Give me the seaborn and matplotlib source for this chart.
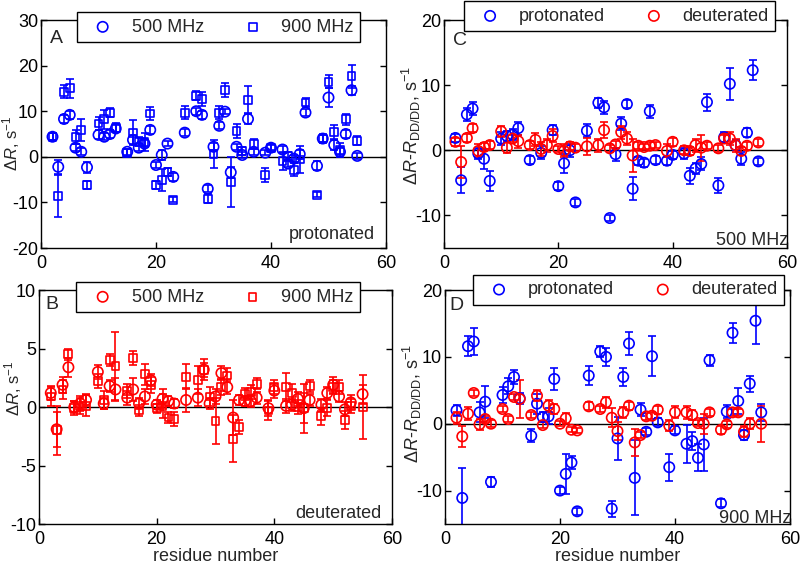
import matplotlib
matplotlib.use("Agg")
import pandas as pd
import matplotlib.pyplot as plt
import seaborn as sns

### ---------------- DATA ---------------- ###
# residue numbers
res_all = [2, 3, 4, 5, 6, 7, 8, 10, 11, 12, 13, 15, 16, 17, 18, 19, 20, 21, 22, 23, 25,
           27, 28, 29, 30, 31, 32, 33, 34, 35, 36, 37, 39, 40, 42, 43, 44, 45, 46, 48,
           49, 50, 51, 52, 53, 54, 55]
res_no54 = [r for r in res_all if r != 54]
res_c_prot = [2, 3, 4, 5, 6, 7, 8, 10, 11, 12, 13, 15, 17, 19, 20, 21, 22, 23, 25, 27,
              28, 29, 30, 31, 32, 33, 34, 35, 36, 37, 39, 40, 42, 43, 44, 45, 46, 48, 49,
              50, 51, 52, 53, 54, 55]

# A: protonated, delta R
a_500 = [4.4, -2.2, 8.3, 9.2, 2.0, 1.1, -2.3, 4.8, 4.4, 5.0, 6.2, 1.1, 3.7, 2.0, 2.9, 5.9,
         -1.8, 0.4, 2.9, -4.4, 5.3, 10.0, 9.2, -7.0, 2.2, 6.8, 9.9, -3.4, 2.2, 0.4, 8.3,
         1.1, 0.9, 2.0, 1.6, -1.5, -0.4, 0.6, 9.7, -2.0, 4.0, 13.0, 2.6, 1.1, 5.0, 14.6, 0.2]
a_500_err = [0.8, 1.5, 0.8, 0.8, 0.8, 0.8, 1.2, 1.0, 0.8, 0.8, 0.8, 0.6, 1.0, 0.8, 0.8, 0.8,
             0.6, 1.2, 0.6, 0.8, 0.8, 0.8, 0.8, 0.8, 0.8, 0.8, 0.6, 1.2, 0.6, 0.6, 1.0, 0.6,
             0.6, 0.6, 0.8, 0.8, 0.8, 1.0, 0.8, 1.0, 0.8, 2.0, 1.0, 0.8, 0.8, 1.0, 0.6]
a_900 = [4.4, -8.6, 14.3, 15.0, 4.4, 5.9, -6.2, 7.3, 8.2, 9.7, 6.4, 0.9, 5.3, 3.3, 3.3, 9.5,
         -6.2, -5.1, -3.3, -9.4, 9.7, 13.4, 12.7, -9.2, 0.6, 9.7, 14.7, -5.5, 5.6, 1.3, 12.5,
         2.8, -4.0, 2.0, -0.9, 0.1, -2.8, -0.6, 11.9, -8.3, 4.0, 16.5, 5.5, 1.5, 8.2, 17.7, 3.5]
a_900_err = [0.8, 4.7, 1.5, 2.0, 1.5, 2.5, 0.8, 1.5, 2.0, 1.0, 1.0, 0.8, 2.7, 1.0, 2.0, 1.5,
             0.8, 2.5, 0.8, 0.6, 1.5, 1.0, 1.5, 1.0, 3.0, 1.5, 1.5, 5.5, 1.5, 0.8, 3.0, 1.0,
             1.5, 0.8, 2.0, 1.0, 1.5, 3.0, 1.0, 0.6, 1.0, 1.5, 1.5, 1.5, 1.2, 2.5, 1.0]

# B: deuterated, delta R
b_500 = [1.2, -1.9, 1.9, 3.4, 0.0, 0.3, 0.6, 3.0, 0.3, 1.8, 1.5, 0.8, 1.5, 0.3, 0.9, 2.3,
         0.2, 0.7, 0.5, 0.3, 0.6, 0.8, 3.2, 0.3, 0.9, 2.9, 1.7, -0.9, 0.6, 0.5, 0.5, 0.8,
         -0.1, 1.4, 0.1, 0.2, 0.7, -0.1, 0.6, 0.2, 1.2, 1.9, 0.9, -0.2, 0.4, 1.1]
b_500_err = [0.6, 1.5, 0.7, 0.8, 0.5, 0.6, 0.5, 0.6, 0.5, 0.5, 1.0, 0.6, 1.0, 0.5, 0.6, 0.5,
             0.4, 0.8, 0.4, 0.4, 1.0, 0.7, 0.6, 0.5, 0.6, 0.6, 0.6, 1.5, 0.4, 0.4, 0.5, 0.5,
             0.7, 0.6, 0.6, 0.5, 0.6, 1.3, 0.5, 0.5, 0.5, 0.7, 0.5, 0.6, 0.6, 0.8]
b_900 = [0.9, -2.0, 1.5, 4.5, -0.1, 0.1, 0.1, 2.2, 0.6, 4.0, 3.5, 1.4, 4.2, -0.3, 2.8, 1.9,
         -0.1, 0.1, -0.9, -1.0, 2.6, 2.3, 3.2, 0.9, -1.2, 1.7, 2.7, -2.7, -1.7, 1.1, 1.3, 2.0,
         -0.3, 1.7, 1.7, 1.2, 0.0, -0.1, 1.8, -0.8, -0.1, 1.7, 1.7, -1.1, 0.1, 0.0]
b_900_err = [0.8, 2.1, 0.8, 0.5, 0.6, 0.7, 0.9, 0.6, 0.8, 0.5, 2.9, 0.6, 0.6, 0.5, 0.9, 0.7,
             0.4, 1.0, 0.5, 0.6, 1.1, 1.2, 0.9, 0.8, 2.0, 0.7, 0.6, 2.0, 0.6, 0.5, 0.6, 0.5,
             0.8, 0.6, 1.2, 0.8, 0.6, 2.1, 0.5, 0.7, 0.7, 0.6, 0.6, 0.8, 0.6, 2.7]

# C: 500 MHz, delta R - R_DD/DD
c_prot = [1.9, -4.6, 5.5, 6.4, -0.5, -1.3, -4.7, 1.8, 2.2, 2.4, 3.4, -1.5, -0.4, 3.1, -5.5,
          -2.0, 0.0, -8.0, 3.0, 7.3, 6.6, -10.4, -0.6, 4.1, 7.1, -5.9, -1.6, -1.9, 6.0, -1.5,
          -1.6, -0.7, -0.5, -3.9, -2.8, -2.1, 7.4, -5.4, 2.0, 10.2, 0.8, -1.3, 2.7, 12.3, -1.7]
c_prot_err = [0.6, 2.0, 1.0, 1.0, 0.8, 1.5, 1.5, 1.0, 0.8, 0.8, 1.0, 0.6, 1.0, 0.8, 0.6, 1.5,
              1.0, 0.5, 1.0, 0.8, 1.0, 0.5, 1.0, 1.0, 0.6, 1.8, 0.6, 0.6, 1.0, 0.6, 0.6, 0.6,
              0.8, 1.2, 0.8, 1.0, 1.3, 1.2, 0.8, 2.5, 0.8, 1.0, 0.7, 1.5, 0.5]
c_deut = [1.3, -1.8, 1.9, 3.4, -0.1, 0.5, 0.8, 2.9, 0.4, 1.8, 1.4, 0.8, 1.6, 0.2, 0.8, 2.2,
          0.2, -0.1, 0.6, 0.4, 0.6, 0.8, 3.1, 0.3, 0.9, 2.8, 1.8, -0.8, 0.7, 0.5, 0.7, 0.8,
          -0.1, 1.3, 0.0, -0.1, 0.8, 0.4, 0.7, 0.3, 1.8, 1.8, 0.8, -0.1, 0.7, 1.2]
c_deut_err = [0.6, 2.5, 0.6, 0.6, 1.0, 0.6, 0.6, 0.8, 0.8, 0.6, 1.0, 0.6, 1.0, 1.0, 1.0, 1.0,
              0.5, 1.0, 0.6, 0.5, 1.3, 1.0, 1.2, 0.5, 0.6, 1.0, 1.0, 2.5, 0.5, 0.5, 0.5, 0.5,
              1.0, 0.6, 0.6, 0.6, 1.0, 2.0, 0.5, 0.5, 0.6, 1.0, 1.0, 0.6, 0.6, 0.6]

# D: 900 MHz, delta R - R_DD/DD
d_prot = [2.0, -11.1, 11.6, 12.3, 1.7, 3.3, -8.7, 4.3, 5.6, 7.0, 3.8, -1.8, 3.0, 1.0, 1.1,
          6.7, -10.0, -7.5, -5.8, -13.1, 7.2, 10.8, 10.0, -12.7, -2.2, 7.0, 12.0, -8.1, 2.1,
          -1.2, 10.1, 0.2, -6.5, -1.0, -3.0, -2.6, -5.1, -3.1, 9.5, -11.9, 1.8, 13.6, 3.4,
          -1.7, 6.0, 15.4, 1.7]
d_prot_err = [0.8, 4.5, 1.5, 2.0, 1.5, 2.4, 0.8, 1.2, 1.2, 1.0, 0.8, 1.0, 1.5, 0.8, 1.2, 1.6,
              0.5, 3.0, 1.0, 0.5, 1.4, 0.8, 1.3, 1.2, 3.2, 1.3, 1.7, 5.6, 1.0, 0.5, 3.0, 0.6,
              2.0, 0.6, 2.8, 1.4, 2.0, 4.0, 0.8, 0.6, 1.0, 1.5, 2.0, 0.7, 1.2, 3.5, 1.3]
d_deut = [0.9, -1.9, 1.5, 4.6, -0.1, 0.7, 0.0, 2.2, 0.7, 4.0, 3.7, 1.3, 4.2, -0.2, 2.7, 2.2,
          0.0, 0.8, -0.9, -1.0, 2.6, 2.2, 3.2, 0.9, -1.1, 1.7, 2.7, -2.8, -1.7, 1.1, 1.2, 2.1,
          -0.3, 1.7, 1.7, 1.3, 0.1, 0.0, 1.7, -0.9, -0.1, 1.7, 1.7, -1.2, 0.0, 0.0]
d_deut_err = [0.9, 1.6, 1.0, 0.5, 0.8, 0.5, 0.5, 0.5, 0.5, 0.5, 2.8, 0.5, 0.8, 0.5, 0.9, 0.8,
              0.4, 0.8, 0.4, 0.4, 0.6, 0.5, 0.8, 1.4, 1.3, 0.8, 0.6, 2.0, 0.5, 0.5, 0.5, 0.6,
              0.8, 0.9, 1.0, 0.7, 0.5, 1.5, 0.5, 0.6, 0.5, 0.5, 0.5, 0.8, 0.8, 2.7]

BLUE = "#0000ff"
RED = "#ff0000"

### ---------------- STYLE ---------------- ###
sns.set_style("ticks")
plt.rcParams["font.family"] = ["Liberation Sans", "DejaVu Sans"]
plt.rcParams["font.size"] = 13
plt.rcParams["mathtext.fontset"] = "custom"
plt.rcParams["mathtext.rm"] = "Liberation Sans"
plt.rcParams["mathtext.it"] = "Liberation Sans:italic"
plt.rcParams["axes.linewidth"] = 1.0
plt.rcParams["axes.unicode_minus"] = False


def draw_series(ax, x, y, err, color, marker, size, label):
    """Error bars through hollow markers."""
    ax.errorbar(x, y, yerr=err, fmt="none", ecolor=color, elinewidth=1.2,
                capsize=2.6, capthick=1.2, zorder=2)
    df = pd.DataFrame({"res": x, "val": y})
    sns.scatterplot(data=df, x="res", y="val", marker=marker, s=size,
                    facecolor="none", edgecolor=color, linewidth=1.2,
                    label=label, legend=False, ax=ax, zorder=3)


def style_axes(ax, ylim, yticks, ylabel, letter, letter_pos, note, note_pos,
               legend_anchor, label_coords, label_size=13, xlabel=False):
    ax.axhline(0, color="k", lw=1.0, zorder=1)
    ax.set_xlim(0, 60)
    ax.set_ylim(*ylim)
    ax.set_xticks([0, 20, 40, 60])
    ax.set_yticks(yticks)
    ax.tick_params(direction="in", top=True, right=True, length=4, width=1,
                   labelsize=13, pad=2, colors="k")
    ax.tick_params(axis="x", pad=5)
    for sp in ax.spines.values():
        sp.set_color("k")
    ax.set_ylabel(ylabel, fontsize=label_size)
    ax.yaxis.set_label_coords(*label_coords)
    ax.set_xlabel("residue number" if xlabel else "", fontsize=13, labelpad=0)
    ax.text(*letter_pos, letter, transform=ax.transAxes, fontsize=14,
            ha="center", va="center")
    ax.text(*note_pos, note, transform=ax.transAxes, fontsize=13,
            ha="right", va="baseline")
    leg = ax.legend(loc="center", bbox_to_anchor=legend_anchor, ncol=2,
                    frameon=True, fancybox=False, framealpha=1, edgecolor="k",
                    fontsize=13, borderpad=0.35, handlelength=2.2,
                    handletextpad=0.5, columnspacing=1.6)
    leg.get_frame().set_linewidth(1.0)
    leg.set_zorder(10)


fig = plt.figure(figsize=(8.0, 5.67), dpi=100)
ax_a = fig.add_axes([0.05125, 0.5626, 0.43125, 0.4021])
ax_b = fig.add_axes([0.04875, 0.0758, 0.44125, 0.4127])
ax_c = fig.add_axes([0.555, 0.5626, 0.42875, 0.4021])
ax_d = fig.add_axes([0.55625, 0.0758, 0.43125, 0.4127])

dr_label = r"$\Delta\mathit{R}$, s$^{-1}$"
diff_label = r"$\Delta\mathit{R}$-$\mathit{R}_{\mathrm{DD/DD}}$, s$^{-1}$"

# A
draw_series(ax_a, res_all, a_500, a_500_err, BLUE, "o", 55, "500 MHz")
draw_series(ax_a, res_all, a_900, a_900_err, BLUE, "s", 32, "900 MHz")
style_axes(ax_a, (-20, 30), [-20, -10, 0, 10, 20, 30], dr_label, "A", (0.046, 0.919),
           "protonated", (0.968, 0.04), (0.514, 0.969), (-0.055, 0.46), label_size=12)

# B
draw_series(ax_b, res_no54, b_500, b_500_err, RED, "o", 55, "500 MHz")
draw_series(ax_b, res_no54, b_900, b_900_err, RED, "s", 32, "900 MHz")
style_axes(ax_b, (-10, 10), [-10, -5, 0, 5, 10], dr_label, "B", (0.037, 0.936),
           "deuterated", (0.97, 0.026), (0.508, 0.970), (-0.042, 0.58), label_size=12,
           xlabel=True)

# C
draw_series(ax_c, res_c_prot, c_prot, c_prot_err, BLUE, "o", 55, "protonated")
draw_series(ax_c, res_no54, c_deut, c_deut_err, RED, "o", 55, "deuterated")
style_axes(ax_c, (-15, 20), [-10, 0, 10, 20], diff_label, "C", (0.047, 0.912),
           "500 MHz", (1.003, 0.013), (0.512, 1.017), (-0.062, 0.54))

# D
draw_series(ax_d, res_all, d_prot, d_prot_err, BLUE, "o", 55, "protonated")
draw_series(ax_d, res_no54, d_deut, d_deut_err, RED, "o", 55, "deuterated")
style_axes(ax_d, (-15, 20), [-10, 0, 10, 20], diff_label, "D", (0.032, 0.934),
           "900 MHz", (1.003, 0.004), (0.532, 1.001), (-0.062, 0.517), xlabel=True)

fig.savefig("out.png", dpi=100, facecolor="white")
